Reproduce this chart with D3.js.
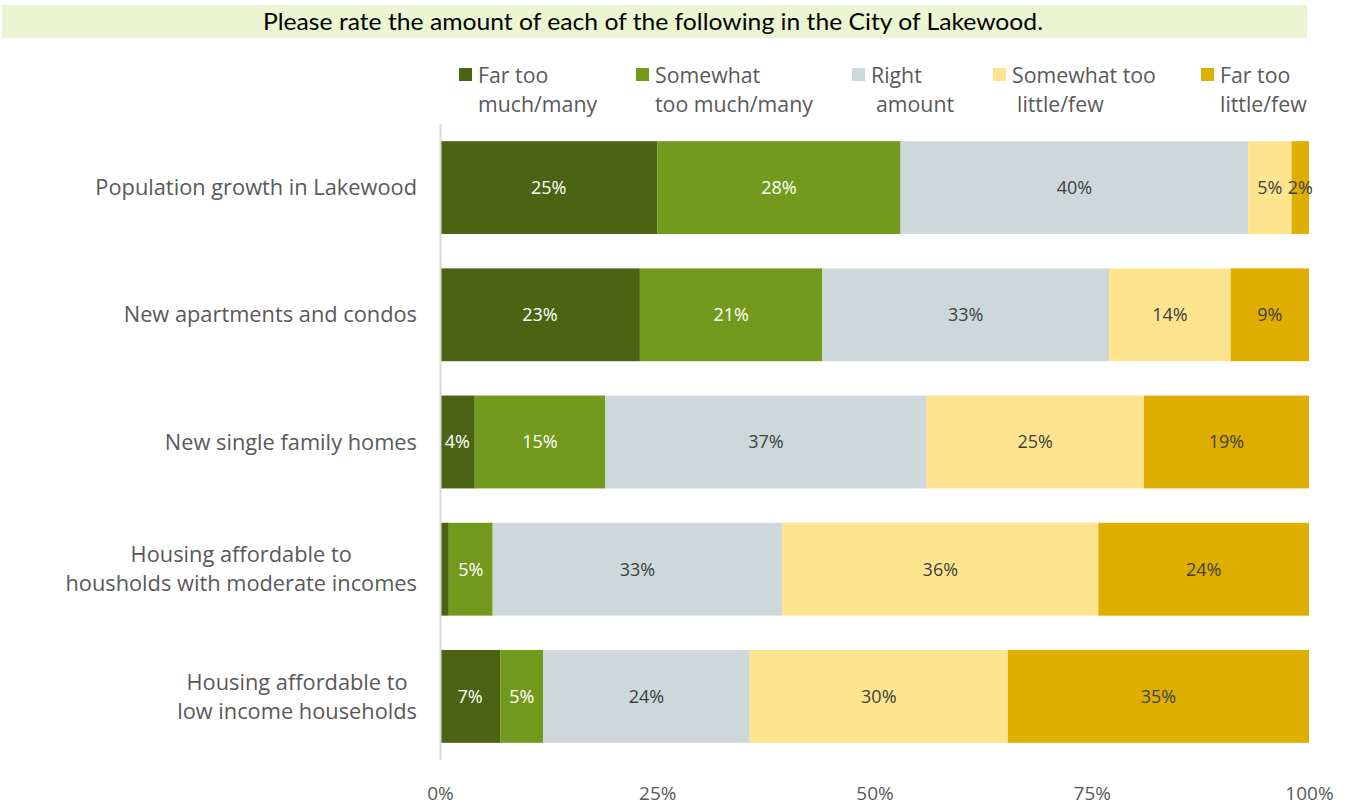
<!DOCTYPE html>
<html>
<head>
<meta charset="utf-8">
<script src="https://cdn.jsdelivr.net/npm/d3@7"></script>
<style>
  html, body { margin: 0; padding: 0; background: #fff; }
  svg { display: block; }
</style>
</head>
<body>
<svg id="chart" width="1347" height="806"></svg>
<script>
// Survey items (rows, top to bottom)
const categories = [
  "Population growth in Lakewood",
  "New apartments and condos",
  "New single family homes",
  "Housing affordable to\nhousholds with moderate incomes",
  "Housing affordable to\nlow income households"
];

// Response options (stack order, left to right)
const seriesNames = [
  "Far too\nmuch/many",
  "Somewhat\ntoo much/many",
  "Right\namount",
  "Somewhat too\nlittle/few",
  "Far too\nlittle/few"
];
const seriesKeys = ["farMuch", "someMuch", "right", "someLittle", "farLittle"];

// Percent of respondents per row, one array per response option
const farMuch    = [25, 23, 4, 1, 7];
const someMuch   = [28, 21, 15, 5, 5];
const right      = [40, 33, 37, 33, 24];
const someLittle = [5, 14, 25, 36, 30];
const farLittle  = [2, 9, 19, 24, 35];

const xTicks = [0, 0.25, 0.5, 0.75, 1];
const xTickLabels = ["0%", "25%", "50%", "75%", "100%"];

const colors = ["#4b6414", "#739a1c", "#ccd8d9", "#ffe48f", "#deae00"];
const labelColors = ["#ffffff", "#ffffff", "#404040", "#404040", "#404040"];

const titleText = "Please rate the amount of each of the following in the City of Lakewood.";

// ---- build table ----
const seriesArrays = [farMuch, someMuch, right, someLittle, farLittle];
const rows = categories.map((c, i) => {
  const r = { category: c };
  seriesKeys.forEach((k, j) => { r[k] = seriesArrays[j][i]; });
  return r;
});

// Each row is normalised to a full 100% bar
const stacked = d3.stack()
  .keys(seriesKeys)
  .offset(d3.stackOffsetExpand)(rows);

const svg = d3.select("#chart");
const labelFont = "'Open Sans', 'Noto Sans', sans-serif";
const textGray = "#595959";

// ---- title band ----
svg.append("rect")
  .attr("x", 2).attr("y", 5).attr("width", 1305).attr("height", 33)
  .attr("fill", "#ebf5d1");
svg.append("text")
  .attr("x", 263).attr("y", 30)
  .attr("font-family", "Lato, 'Open Sans', sans-serif")
  .attr("font-size", 22.5)
  .attr("fill", "#000")
  .attr("textLength", 780)
  .attr("lengthAdjust", "spacingAndGlyphs")
  .text(titleText);

// ---- scales ----
const x = d3.scaleLinear().domain([0, 1]).range([440, 1309]);
const y = d3.scaleBand()
  .domain(categories)
  .range([124, 760])
  .paddingInner(0.27)
  .paddingOuter(0.135);
const color = d3.scaleOrdinal().domain(seriesKeys).range(colors);

// ---- bars ----
const layers = svg.append("g").selectAll("g")
  .data(stacked)
  .join("g")
  .attr("fill", d => color(d.key));

layers.selectAll("rect")
  .data(d => d)
  .join("rect")
  .attr("x", d => x(d[0]))
  .attr("y", d => y(d.data.category))
  .attr("width", d => x(d[1]) - x(d[0]))
  .attr("height", y.bandwidth());

// ---- value labels (the 1% sliver is left unlabelled) ----
stacked.forEach((layer, j) => {
  svg.append("g").selectAll("text")
    .data(layer.filter(d => d.data[layer.key] >= 2))
    .join("text")
    .attr("x", d => (x(d[0]) + x(d[1])) / 2)
    .attr("y", d => y(d.data.category) + y.bandwidth() / 2)
    .attr("dy", "0.35em")
    .attr("text-anchor", "middle")
    .attr("font-family", labelFont)
    .attr("font-size", 18)
    .attr("fill", labelColors[j])
    .text(d => d.data[layer.key] + "%");
});

// ---- y axis line ----
svg.append("line")
  .attr("x1", 440.5).attr("x2", 440.5)
  .attr("y1", 124).attr("y2", 760)
  .attr("stroke", "#d9d9d9").attr("stroke-width", 2);

// ---- category labels: a centred text block whose right edge sits by the axis ----
const labelRight = 417;
const lineHeight = 29;
categories.forEach(c => {
  const lines = c.split("\n");
  const cy = y(c) + y.bandwidth() / 2;
  const t = svg.append("text")
    .attr("font-family", labelFont)
    .attr("font-size", 21.8)
    .attr("fill", textGray)
    .attr("text-anchor", "middle");
  const spans = lines.map((ln, k) => t.append("tspan")
    .attr("y", cy + (k - (lines.length - 1) / 2) * lineHeight)
    .attr("dy", "0.35em")
    .text(ln));
  const maxW = d3.max(spans, s => s.node().getComputedTextLength());
  spans.forEach(s => s.attr("x", labelRight - maxW / 2));
});

// ---- x axis tick labels ----
const xAxis = d3.axisBottom(x)
  .tickValues(xTicks)
  .tickFormat((d, i) => xTickLabels[i])
  .tickSize(0)
  .tickPadding(0);
const gx = svg.append("g")
  .attr("transform", "translate(0,786)")
  .call(xAxis);
gx.select(".domain").remove();
gx.selectAll("text")
  .attr("font-family", labelFont)
  .attr("font-size", 19)
  .attr("fill", textGray);

// ---- legend ----
const legendX = [459, 636, 852, 993, 1201];
const secondLineShift = [0, 0, 5, 5, 0];
const legend = svg.append("g").selectAll("g")
  .data(seriesNames)
  .join("g")
  .attr("transform", (d, i) => `translate(${legendX[i]},0)`);
legend.append("rect")
  .attr("x", 0).attr("y", 68)
  .attr("width", 13).attr("height", 13)
  .attr("fill", (d, i) => colors[i]);
legend.append("text")
  .attr("font-family", labelFont)
  .attr("font-size", 21.3)
  .attr("fill", textGray)
  .each(function (d, i) {
    const t = d3.select(this);
    d.split("\n").forEach((ln, k) => {
      t.append("tspan")
        .attr("x", 19 + (k > 0 ? secondLineShift[i] : 0))
        .attr("y", 83 + k * 29)
        .text(ln);
    });
  });
</script>
</body>
</html>
